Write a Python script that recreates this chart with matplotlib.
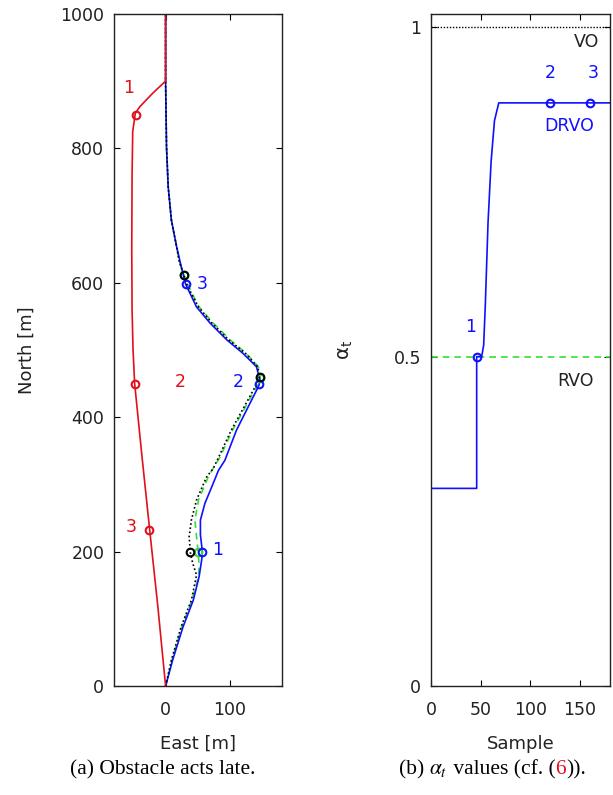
#!/usr/bin/env python3

import matplotlib
matplotlib.use('Agg')
import matplotlib.pyplot as plt

# --- left panel: trajectories (East, North) in metres ---
red_e = [0, -12, -25, -37, -48, -50.5, -52, -52.5, -52, -51, -47, -40, -30, -20, -9, 0, 0]
red_n = [0, 118, 235, 345, 450, 500, 560, 650, 760, 825, 852, 862, 872, 882, 892, 900, 1000]

blue_e = [0, 11, 27, 43, 52, 56, 57, 54, 54, 61, 74, 82, 92, 110, 131, 141, 145, 146, 141, 120, 95, 69,
          48, 38, 31, 24, 17, 9, 4, 1.4, 0, 0]
blue_n = [0, 39, 88, 128, 163, 188, 200, 225, 247, 272, 302, 321, 336, 381, 421, 440, 448, 456, 475, 495,
          515, 540, 564, 584, 598, 625, 654, 693, 743, 802, 900, 1000]

green_e = [0, 10, 25, 41, 51, 52, 50.5, 48, 45.5, 51, 66, 75, 84, 104, 127, 139, 147, 144, 125, 100, 74,
           52, 41, 34, 29, 22, 17, 9, 4, 1.4, 0, 0]
green_n = [0, 39, 88, 128, 163, 180, 198, 222, 247, 277, 311, 326, 340, 381, 421, 442, 458, 475, 495, 515,
           540, 564, 584, 598, 610, 630, 654, 693, 743, 802, 900, 1000]

black_e = [0, 9, 24, 40, 48, 42, 38.5, 36.5, 40, 48, 63.5, 74, 82, 102, 125, 137, 146, 143, 124, 98, 72,
           51, 40, 33, 28, 21, 17, 9, 4, 1.4, 0, 0]
black_n = [0, 39, 88, 128, 165, 183, 198, 222, 247, 277, 311, 324, 340, 381, 421, 442, 460, 475, 495, 515,
           540, 564, 584, 598, 612, 632, 654, 693, 743, 802, 900, 1000]

red_mk_e = [-46, -48, -26]
red_mk_n = [850, 450, 232]
blue_mk_e = [57, 145, 31]
blue_mk_n = [200, 449, 598]
green_mk_e = [50, 147, 29]
green_mk_n = [200, 458, 611]
black_mk_e = [38, 146, 28]
black_mk_n = [200, 460, 612]

red_lbl = ['1', '2', '3']
red_lbl_e = [-58, 22, -53]
red_lbl_n = [890, 452, 237]
blue_lbl = ['1', '2', '3']
blue_lbl_e = [80, 113, 56]
blue_lbl_n = [203, 452, 598]

# --- right panel: alpha_t per sample ---
sample = [0, 46, 46, 51, 53, 54.7, 57.4, 60.5, 63.9, 68.2, 180]
alpha = [0.3, 0.3, 0.5, 0.5, 0.517, 0.579, 0.703, 0.796, 0.858, 0.885, 0.885]
alpha_mk_s = [46, 120, 160]
alpha_mk_a = [0.5, 0.885, 0.885]
alpha_lbl = ['1', '2', '3']
alpha_lbl_s = [39.5, 119.5, 163]
alpha_lbl_a = [0.545, 0.93, 0.93]
vo_level = 1.0
rvo_level = 0.5

RED = '#e0101c'
BLUE = '#1010ff'
GREEN = '#33e033'
TXT = '#222222'


def style_axes(ax):
    ax.tick_params(direction='in', top=True, right=True, length=4, width=0.8,
                   labelsize=12.5, labelcolor=TXT, pad=7)
    ax.tick_params(axis='x', pad=11)
    for s in ax.spines.values():
        s.set_color('#222222')
        s.set_linewidth(1.0)


def main():
    plt.rcParams['font.family'] = ['DejaVu Sans']
    fig = plt.figure(figsize=(6.13, 7.95), dpi=100)

    # left panel
    ax = fig.add_axes([0.186, 0.137, 0.2735, 0.8455])
    ax.plot(green_e, green_n, color=GREEN, lw=1.2, ls=(0, (4, 3)))
    ax.plot(blue_e, blue_n, color=BLUE, lw=1.2)
    ax.plot(black_e, black_n, color='black', lw=1.2, ls=(0, (1, 1.5)))
    ax.plot(red_e, red_n, color=RED, lw=1.2)
    ax.plot(green_mk_e, green_mk_n, 'o', mfc='none', mec=GREEN, mew=1.5, ms=5.5)
    ax.plot(blue_mk_e, blue_mk_n, 'o', mfc='none', mec=BLUE, mew=1.5, ms=5.5)
    ax.plot(black_mk_e, black_mk_n, 'o', mfc='none', mec='black', mew=1.5, ms=5.5)
    ax.plot(red_mk_e, red_mk_n, 'o', mfc='none', mec=RED, mew=1.5, ms=5.5)
    for t, x, y in zip(red_lbl, red_lbl_e, red_lbl_n):
        ax.text(x, y, t, color=RED, fontsize=12.5, ha='center', va='center')
    for t, x, y in zip(blue_lbl, blue_lbl_e, blue_lbl_n):
        ax.text(x, y, t, color=BLUE, fontsize=12.5, ha='center', va='center')
    ax.set_xlim(-80, 180)
    ax.set_ylim(0, 1000)
    ax.set_xticks([0, 100])
    ax.set_yticks([0, 200, 400, 600, 800, 1000])
    ax.set_xlabel('East [m]', fontsize=13, color=TXT, labelpad=11)
    ax.set_ylabel('North [m]', fontsize=13, color=TXT, labelpad=18)
    style_axes(ax)

    # right panel
    ax2 = fig.add_axes([0.703, 0.137, 0.292, 0.8455])
    ax2.plot([0, 180], [vo_level, vo_level], color='black', lw=1.0, ls=(0, (1, 1.2)))
    ax2.plot([0, 180], [rvo_level, rvo_level], color=GREEN, lw=1.2, ls=(0, (4, 3)))
    ax2.plot(sample, alpha, color=BLUE, lw=1.2)
    ax2.plot(alpha_mk_s, alpha_mk_a, 'o', mfc='none', mec=BLUE, mew=1.5, ms=5.5)
    for t, x, y in zip(alpha_lbl, alpha_lbl_s, alpha_lbl_a):
        ax2.text(x, y, t, color=BLUE, fontsize=12.5, ha='center', va='center')
    ax2.text(156, 0.978, 'VO', color=TXT, fontsize=12.5, ha='center', va='center')
    ax2.text(139, 0.85, 'DRVO', color=BLUE, fontsize=12.5, ha='center', va='center')
    ax2.text(145, 0.463, 'RVO', color=TXT, fontsize=12.5, ha='center', va='center')
    ax2.set_xlim(0, 180)
    ax2.set_ylim(0, 1.02)
    ax2.set_xticks([0, 50, 100, 150])
    ax2.set_yticks([0, 0.5, 1])
    ax2.set_yticklabels(['0', '0.5', '1'])
    ax2.set_xlabel('Sample', fontsize=13, color=TXT, labelpad=11)
    ax2.set_ylabel(r'$\mathregular{\alpha_t}$', fontsize=14, color=TXT, labelpad=28)
    style_axes(ax2)

    # captions (serif, like the paper)
    fig.text(0.266, 0.032, '(a) Obstacle acts late.', family='Liberation Serif',
             fontsize=15.5, ha='center', va='center')
    fig.canvas.draw()
    r = fig.canvas.get_renderer()
    parts = [('(b) ', 'black'), (r'$\alpha_t$', 'black'), (' values (cf. (', 'black'),
             ('6', RED), (')).', 'black')]
    objs = []
    for s, c in parts:
        t = fig.text(0, 0.032, s, family='Liberation Serif', fontsize=15.5,
                     color=c, ha='left', va='center', math_fontfamily='stix')
        objs.append(t)
    widths = [o.get_window_extent(r).width / fig.bbox.width for o in objs]
    start = 0.803 - sum(widths) / 2
    for o, w in zip(objs, widths):
        o.set_x(start)
        start += w

    fig.savefig('out.png', dpi=100)


if __name__ == '__main__':
    main()
